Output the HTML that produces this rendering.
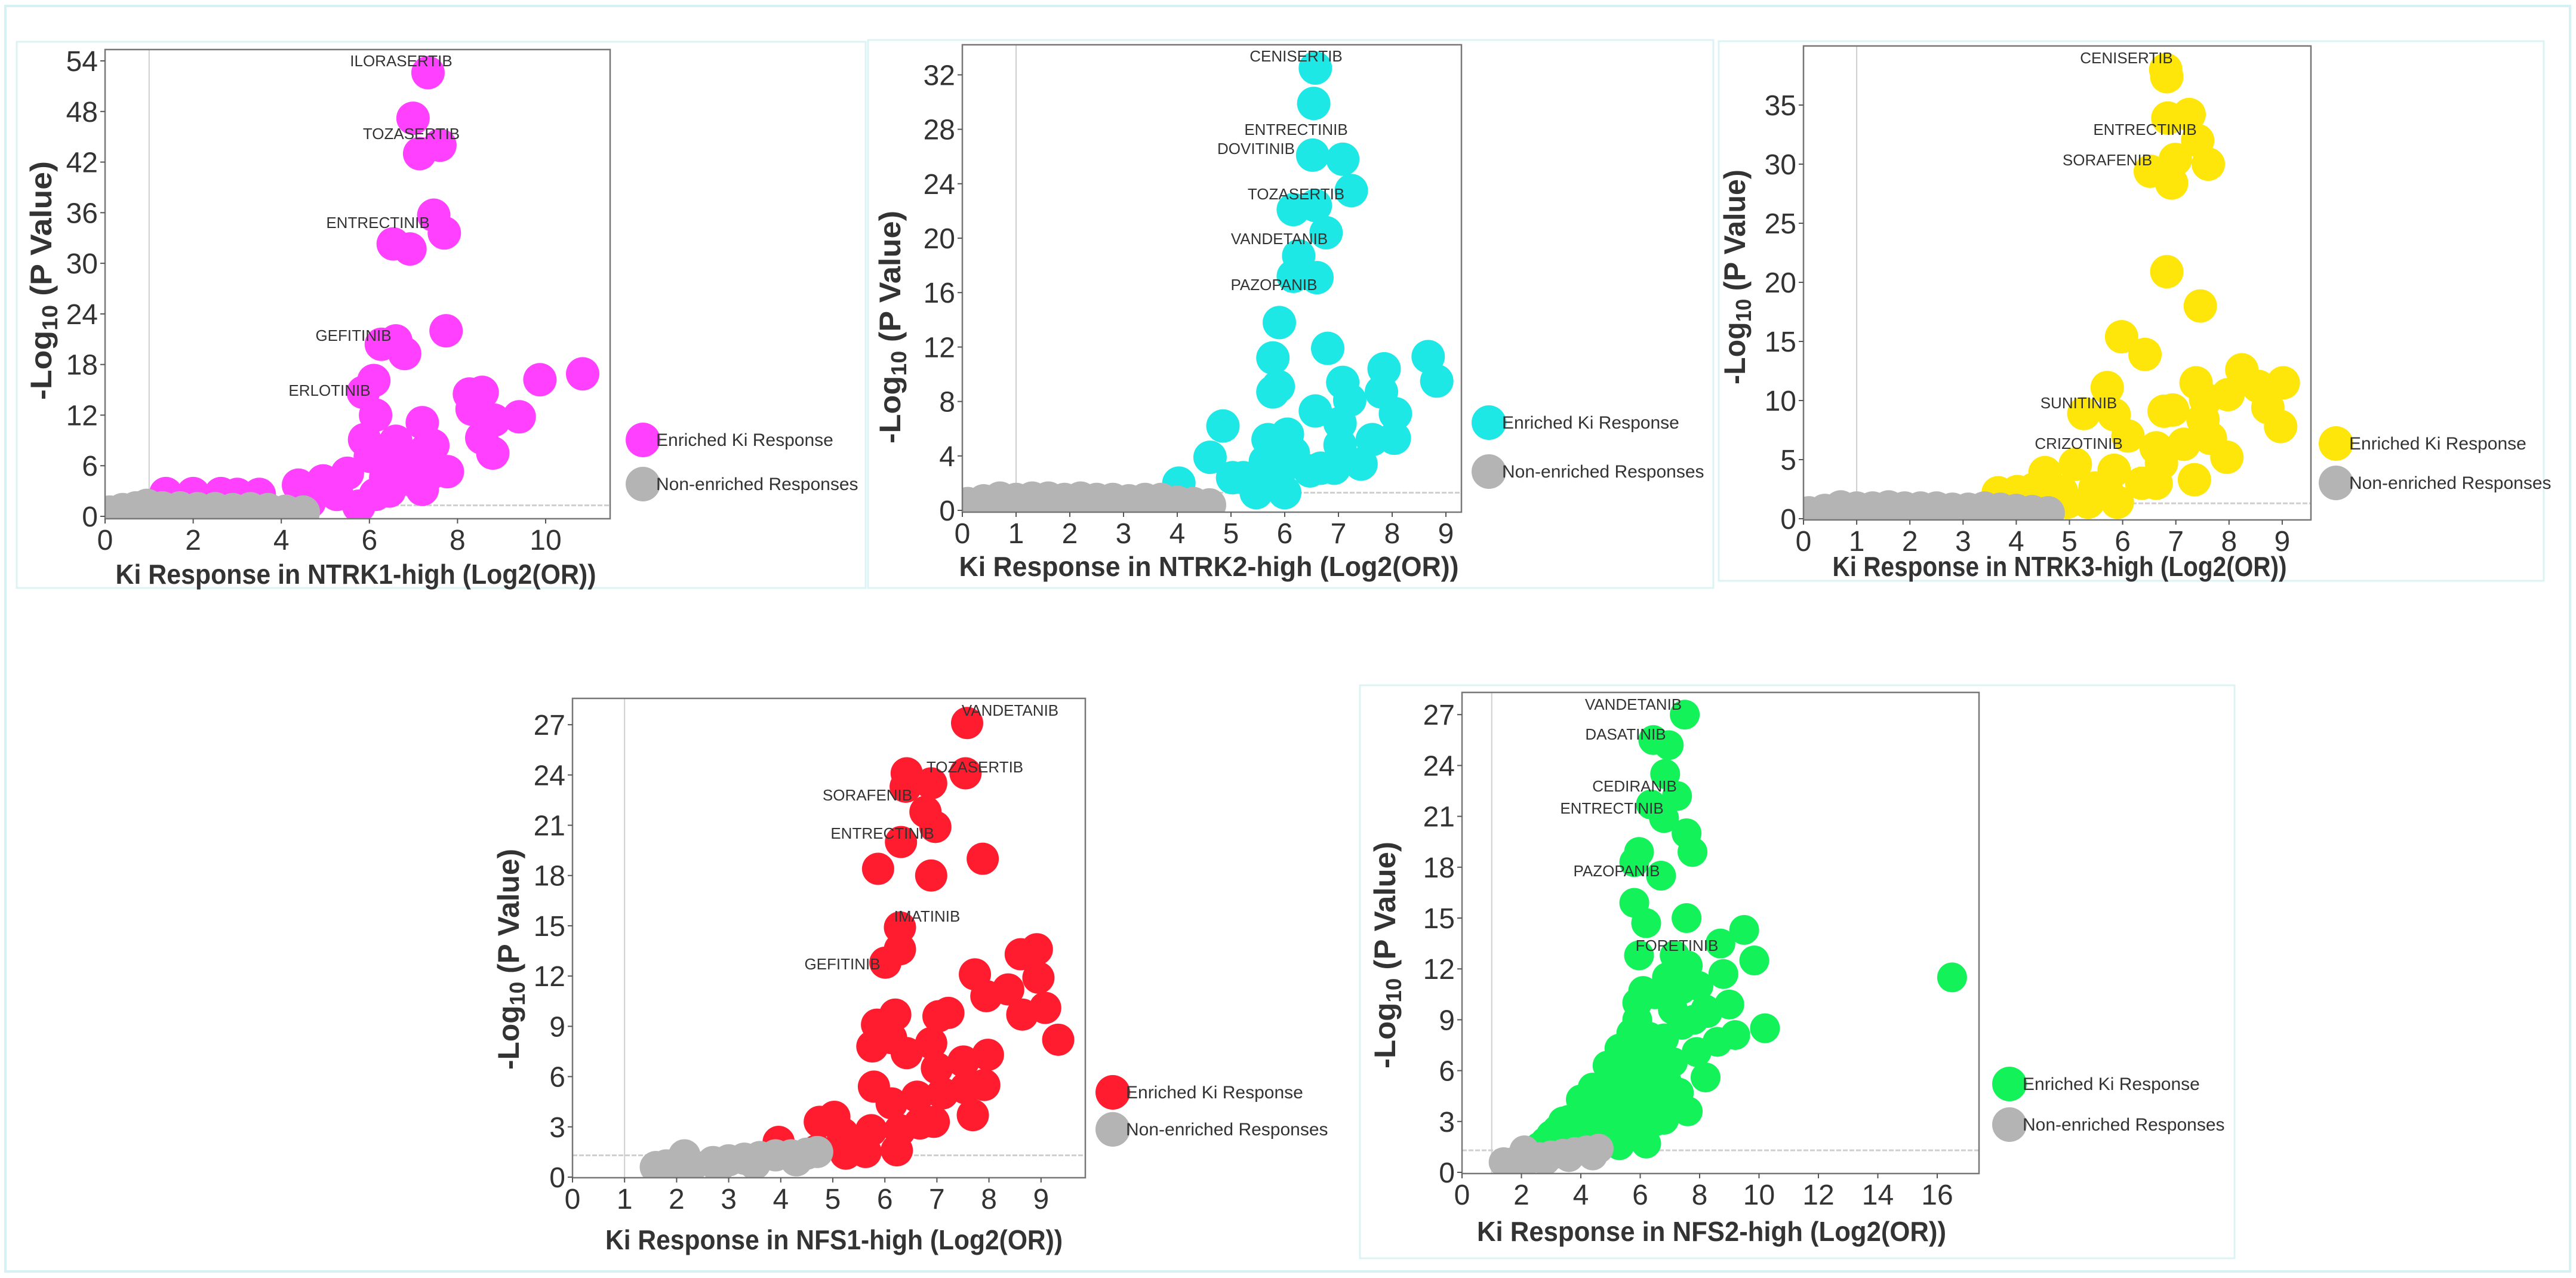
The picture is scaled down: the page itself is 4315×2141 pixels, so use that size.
<!DOCTYPE html>
<html><head><meta charset="utf-8"><style>
html,body{margin:0;padding:0;background:#fff}
svg{display:block;font-family:"Liberation Sans",Arial,sans-serif}
</style></head><body>
<svg id="fig" width="4315" height="2141" viewBox="0 0 4315 2141" xmlns="http://www.w3.org/2000/svg">
<rect x="9" y="10" width="4296" height="2120" fill="#fff" stroke="#d6f1f4" stroke-width="4"/>
<rect x="28" y="70" width="1422" height="915" fill="none" stroke="#dcf3f6" stroke-width="3"/>
<rect x="1454" y="67" width="1416" height="918" fill="none" stroke="#dcf3f6" stroke-width="3"/>
<rect x="2879" y="69" width="1382" height="904" fill="none" stroke="#dcf3f6" stroke-width="3"/>
<rect x="2278" y="1148" width="1465" height="960" fill="none" stroke="#dcf3f6" stroke-width="3"/>
</svg>
<script>
// ---------- DATA ----------
const p1EnrX=[7.33,6.99,7.6,7.14,7.46,7.7,6.54,6.92,7.74,6.27,6.6,6.8,6.1,5.86,10.84,9.87,8.27,8.56,8.33,8.83,9.4,6.14,7.2,5.89,6.6,7.44,7.27,8.55,8.8,6.39,6.99,7.77,7.39,6.37,5.5,4.95,4.39,7.2,6.45,5.76,5.26,6.14,4.64,6.89,6.02,1.38,2.0,2.63,3.0,3.5];
const p1EnrY=[52.6,47.2,44,43,35.7,33.6,32.3,31.7,22,20.4,20.8,19.3,16.1,14.7,16.9,16.2,14.5,14.7,12.7,11.4,11.8,12,11.1,9.1,8.9,8.4,7.8,9.3,7.5,6.4,6.2,5.3,5.1,4.6,5.1,4.2,3.7,3.2,3,1.2,2.6,2.6,1.7,4.4,7.1,2.7,2.7,2.7,2.6,2.6];
const p1GrayX=[0.1,0.4,0.7,0.95,1.3,1.7,2.1,2.5,2.9,3.3,3.7,4.1,4.5,0.3,1.0,1.8,2.6,3.4,4.2];
const p1GrayY=[0.5,0.8,1.0,1.3,1.0,1.0,0.9,0.9,0.8,0.9,0.8,0.6,0.5,0.2,0.3,0.3,0.3,0.3,0.2];
const p1Labels=["ILORASERTIB","TOZASERTIB","ENTRECTINIB","GEFITINIB","ERLOTINIB"];
const p1XTicks=[0,2,4,6,8,10];
const p1YTicks=[0,6,12,18,24,30,36,42,48,54];

const p2EnrX=[6.57,6.54,6.52,7.08,7.24,6.16,6.57,6.77,6.26,6.16,6.6,5.9,6.8,5.78,8.67,7.85,8.83,7.08,5.88,5.78,7.8,7.21,6.57,8.06,7.03,4.85,6.05,5.69,7.63,8.04,7.03,6.16,4.61,5.64,7.42,5.03,5.23,6.47,6.67,6.92,5.9,5.47,6.0,4.03,5.49];
const p2EnrY=[32.5,29.9,26.1,25.8,23.5,22.1,22.4,20.4,18.7,17.2,17.1,13.8,11.9,11.2,11.3,10.4,9.5,9.4,9.1,8.7,8.7,8.1,7.3,7.1,6.4,6.2,5.6,5.2,5.2,5.3,4.8,4.2,3.9,3.6,3.4,2.4,2.4,2.9,3.1,3.1,2.8,1.3,1.3,2.0,2.5];
const p2GrayX=[0.1,0.4,0.7,1.0,1.3,1.6,1.9,2.2,2.5,2.8,3.1,3.4,3.7,4.0,4.3,4.6,0.5,1.5,2.5,3.5,4.4];
const p2GrayY=[0.5,0.7,0.9,0.8,0.9,0.9,0.8,0.9,0.8,0.8,0.7,0.8,0.8,0.6,0.5,0.4,0.2,0.2,0.2,0.2,0.2];
const p2Labels=["CENISERTIB","ENTRECTINIB","DOVITINIB","TOZASERTIB","VANDETANIB","PAZOPANIB"];
const p2XTicks=[0,1,2,3,4,5,6,7,8,9];
const p2YTicks=[0,4,8,12,16,20,24,28,32];

const p3EnrX=[6.83,6.81,6.85,7.25,7.41,6.99,6.52,7.61,6.92,6.83,7.46,5.98,6.42,8.24,9.02,7.38,8.55,5.71,7.98,7.56,8.73,6.78,6.94,5.27,5.84,7.51,8.97,6.1,7.65,7.15,6.63,7.96,5.11,4.54,5.84,6.73,7.35,6.36,6.63,5.48,4.96,5.35,5.9,5.69,4.85,4.02,3.66,4.33];
const p3EnrY=[37.4,38,33.9,34.2,32,30.4,29.4,30,28.4,20.9,18,15.4,13.9,12.6,11.5,11.5,11.2,11.1,10.5,10.1,9.4,9.1,9.2,8.9,8.8,8.4,7.8,7,6.8,6.3,6,5.2,4.6,3.9,4.1,4.7,3.3,3,3,2.6,1.4,1.4,1.4,2.5,2.3,2.3,2.2,2.5];
const p3GrayX=[0.1,0.4,0.7,1.0,1.3,1.6,1.9,2.2,2.5,2.8,3.1,3.4,3.7,4.0,4.3,4.6,0.5,1.5,2.5,3.5,4.4];
const p3GrayY=[0.5,0.7,1.0,0.9,0.9,1.0,0.9,0.9,0.9,0.8,0.8,0.9,0.8,0.7,0.6,0.5,0.2,0.2,0.2,0.2,0.2];
const p3Labels=["CENISERTIB","ENTRECTINIB","SORAFENIB","SUNITINIB","CRIZOTINIB"];
const p3XTicks=[0,1,2,3,4,5,6,7,8,9];
const p3YTicks=[0,5,10,15,20,25,30,35];

const p4EnrX=[7.58,7.55,6.42,6.89,6.4,6.78,6.97,6.31,7.88,5.87,6.89,6.29,6.29,6.01,8.92,8.61,7.73,8.95,8.37,7.95,8.64,9.08,7.22,7.03,6.2,5.85,9.33,6.89,6.12,5.76,7.98,6.42,7.51,7.0,5.79,7.91,7.55,7.11,6.62,6.13,7.69,4.75,5.03,6.94,6.67,5.74,5.19,6.29,6.23,5.63,5.25,3.96,4.7];
const p4EnrY=[27.1,24.1,24.1,23.5,23.3,21.8,20.9,20,19,18.4,18,14.9,13.6,12.8,13.6,13.3,12.1,11.9,11.2,10.8,9.7,10.1,9.8,9.6,9.7,9.1,8.2,8,8.3,7.8,7.3,7.4,6.9,6.5,5.4,5.5,5.3,5,4.8,4.4,3.7,3.3,3.6,3.3,3.2,2.8,2.6,2.8,1.6,1.5,1.4,2.1,1.6];
const p4GrayX=[1.6,1.8,2.0,2.15,2.3,2.7,3.0,3.3,3.6,3.9,4.2,4.5,4.7,2.0,2.8,3.5,4.3];
const p4GrayY=[0.6,0.7,0.8,1.3,0.7,0.9,1.0,1.1,1.2,1.3,1.3,1.4,1.5,0.4,0.6,0.8,1.0];
const p4Labels=["VANDETANIB","TOZASERTIB","SORAFENIB","ENTRECTINIB","IMATINIB","GEFITINIB"];
const p4XTicks=[0,1,2,3,4,5,6,7,8,9];
const p4YTicks=[0,3,6,9,12,15,18,21,24,27];

const p5EnrX=[7.5,6.44,6.96,6.84,7.24,6.36,6.8,7.56,7.76,5.96,5.8,6.7,5.8,7.56,6.2,9.5,8.7,5.96,7.16,9.84,16.5,7.6,8.8,7.96,6.1,6.7,9.0,8.26,7.1,5.9,10.2,9.2,8.6,6.8,5.4,7.9,6.1,8.2,5.0,6.8,5.8,7.3,4.0,7.6,6.4,4.8,3.6,5.4,6.8,3.2,4.2,6.2,5.3,2.8,4.6,5.6,5.0,6.6,7.4,5.6,
 3.0,3.4,3.8,4.2,4.5,4.8,5.0,5.2,5.4,5.6,5.8,6.0,6.2,6.4,6.6,5.5,5.7,6.0,6.3,6.9,7.1,4.6,5.0,5.5,3.8,2.6,5.9,6.5,6.9,7.4,7.8,8.2,6.5,7.0,4.4,3.6,4.9,5.3];
const p5EnrY=[27,25.5,25.2,23.5,22.2,21.7,20.9,20,18.9,18.9,18.3,17.5,15.9,15,14.7,14.3,13.5,12.8,12.8,12.5,11.5,12.2,11.7,11,10.7,10.6,9.9,9.4,9.6,9,8.5,8.1,7.7,7.9,7.1,7.1,6.6,5.6,5.4,6.1,4.9,4.7,4.3,3.6,3.9,3.5,3.1,3.0,3.1,2.5,2.7,1.7,1.6,1.8,2.0,2.6,4.2,7.3,8.7,6.1,
 2.2,3.0,2.0,3.5,2.5,4.5,3.2,5.0,4.0,5.5,3.5,6.0,5.2,4.3,5.8,6.8,8.2,7.5,8.0,5.3,6.5,1.5,2.0,2.2,1.4,1.5,10.0,10.5,11.5,10.8,9.0,9.6,3.0,3.6,5.0,2.4,6.3,7.3];
const p5GrayX=[1.4,1.7,2.1,2.3,2.6,3.0,3.4,3.8,4.2,4.6,2.0,2.8,3.6,4.4];
const p5GrayY=[0.6,0.6,1.3,0.8,0.9,1.0,1.1,1.2,1.3,1.4,0.4,0.7,0.9,1.0];
const p5Labels=["VANDETANIB","DASATINIB","CEDIRANIB","ENTRECTINIB","PAZOPANIB","FORETINIB"];
const p5XTicks=[0,2,4,6,8,10,12,14,16];
const p5YTicks=[0,3,6,9,12,15,18,21,24,27];

// ---------- LAYOUT (geometry, not data) ----------
const panels=[
 {id:"ntrk1",gene:"NTRK1",color:"#ff40ff",ex:p1EnrX,ey:p1EnrY,gx:p1GrayX,gy:p1GrayY,xt:p1XTicks,yt:p1YTicks,labels:p1Labels,
  labelPos:[[672,102],[689,224],[633,373],[592,562],[552,654]],
  box:[176,83,1022,869],x0:176,xu:73.8,y0:865,yu:14.13,r:28,
  leg:[1077,737,811],yTitle:[69,470,400],xTitle:[596,978,805]},
 {id:"ntrk2",gene:"NTRK2",color:"#1ee8e6",ex:p2EnrX,ey:p2EnrY,gx:p2GrayX,gy:p2GrayY,xt:p2XTicks,yt:p2YTicks,labels:p2Labels,
  labelPos:[[2171,94],[2171,217],[2104,249],[2171,325],[2143,400],[2134,477]],
  box:[1612,75,2448,858],x0:1612,xu:90,y0:855,yu:22.8,r:28,
  leg:[2494,708,790],yTitle:[1491,548,390],xTitle:[2025,965,837]},
 {id:"ntrk3",gene:"NTRK3",color:"#ffe60a",ex:p3EnrX,ey:p3EnrY,gx:p3GrayX,gy:p3GrayY,xt:p3XTicks,yt:p3YTicks,labels:p3Labels,
  labelPos:[[3562,97],[3593,217],[3530,268],[3482,675],[3482,743]],
  box:[3021,77,3871,871],x0:3021,xu:89.1,y0:869,yu:19.8,r:28,
  leg:[3913,743,809],yTitle:[2906,464,360],xTitle:[3450,965,761]},
 {id:"nfs1",gene:"NFS1",color:"#ff1c2e",ex:p4EnrX,ey:p4EnrY,gx:p4GrayX,gy:p4GrayY,xt:p4XTicks,yt:p4YTicks,labels:p4Labels,
  labelPos:[[1692,1190],[1633,1285],[1453,1332],[1478,1396],[1553,1535],[1411,1615]],
  box:[959,1170,1818,1973],x0:959,xu:87.2,y0:1972,yu:28.07,r:27,
  leg:[1864,1830,1892],yTitle:[852,1607,370],xTitle:[1397,2093,766]},
 {id:"nfs2",gene:"NFS2",color:"#14f25a",ex:p5EnrX,ey:p5EnrY,gx:p5GrayX,gy:p5GrayY,xt:p5XTicks,yt:p5YTicks,labels:p5Labels,
  labelPos:[[2736,1180],[2723,1230],[2738,1317],[2700,1354],[2708,1459],[2809,1584]],
  box:[2449,1160,3315,1966],x0:2449,xu:49.75,y0:1964,yu:28.4,r:25,
  leg:[3366,1816,1884],yTitle:[2320,1600,380],xTitle:[2867,2079,786]}
];

const NS="http://www.w3.org/2000/svg";
const svg=document.getElementById("fig");
function mk(tag,attrs,parent){const e=document.createElementNS(NS,tag);for(const k in attrs)e.setAttribute(k,attrs[k]);(parent||svg).appendChild(e);return e;}

panels.forEach(p=>{
  const g=mk("g",{});
  
  
  const sx=v=>p.x0+v*p.xu, sy=v=>p.y0-v*p.yu;
  const [bx0,by0,bx1,by1]=p.box;
  const clip=mk("clipPath",{id:"clip-"+p.id},g);
  mk("rect",{x:bx0,y:by0,width:bx1-bx0,height:by1-by0},clip);
  const vl=mk("line",{x1:sx(1),x2:sx(1),y1:by0,y2:by1,stroke:"#cfcfcf","stroke-width":2},g);
  
  
  const hl=mk("line",{x1:bx0,x2:bx1,y1:sy(1.3),y2:sy(1.3),stroke:"#cfcfcf","stroke-width":3,"stroke-dasharray":"8 3"},g);
  
  
  const pts=mk("g",{"clip-path":"url(#clip-"+p.id+")"},g);
  
  
  p.ex.forEach((x,i)=>{
    const c=mk("circle",{cx:sx(x),cy:sy(p.ey[i]),r:p.r,fill:p.color},pts);
    
    
  });
  p.gx.forEach((x,i)=>{
    const c=mk("circle",{cx:sx(x),cy:sy(p.gy[i]),r:p.r,fill:"#b4b4b4"},pts);
    
    
  });
  const b=mk("rect",{x:bx0,y:by0,width:bx1-bx0,height:by1-by0,fill:"none",stroke:"#777","stroke-width":2.5},g);
  
  
  p.xt.forEach(v=>{
    mk("line",{x1:sx(v),x2:sx(v),y1:by1,y2:by1+8,stroke:"#555","stroke-width":2},g);
    const t=mk("text",{x:sx(v),y:by1+52,"font-size":48,"text-anchor":"middle",fill:"#333"},g);
    t.textContent=v;
    
    
  });
  p.yt.forEach(v=>{
    mk("line",{x1:bx0-8,x2:bx0,y1:sy(v),y2:sy(v),stroke:"#555","stroke-width":2},g);
    const t=mk("text",{x:bx0-12,y:sy(v)+17,"font-size":48,"text-anchor":"end",fill:"#333"},g);
    t.textContent=v;
    
    
  });
  p.labels.forEach((s,i)=>{
    const t=mk("text",{x:p.labelPos[i][0],y:p.labelPos[i][1]+9,"font-size":26,"text-anchor":"middle",fill:"#333"},g);
    t.textContent=s;
    
    
  });
  const [yx,yy,yl]=p.yTitle;
  const yt=mk("text",{x:0,y:0,"font-size":50,"font-weight":"bold","text-anchor":"middle",fill:"#333",textLength:yl,lengthAdjust:"spacingAndGlyphs",
    transform:`translate(${yx+17},${yy}) rotate(-90)`},g);
  
  
  yt.innerHTML='-Log<tspan font-size="36" dy="10">10</tspan><tspan dy="-10"> (P Value)</tspan>';
  const [xx,xy,xl]=p.xTitle;
  const xtt=mk("text",{x:xx,y:xy,"font-size":46,"font-weight":"bold","text-anchor":"middle",fill:"#333",textLength:xl,lengthAdjust:"spacingAndGlyphs"},g);
  xtt.textContent="Ki Response in "+p.gene+"-high (Log2(OR))";
  
  
  const [lx,ly1,ly2]=p.leg;
  const lg=mk("g",{},g);
  
  
  const c1=mk("circle",{cx:lx,cy:ly1,r:29,fill:p.color},lg);
  
  
  const t1=mk("text",{x:lx+22,y:ly1+10,"font-size":30,fill:"#333"},lg);
  t1.textContent="Enriched Ki Response";
  
  
  const c2=mk("circle",{cx:lx,cy:ly2,r:29,fill:"#b4b4b4"},lg);
  
  
  const t2=mk("text",{x:lx+22,y:ly2+10,"font-size":30,fill:"#333"},lg);
  t2.textContent="Non-enriched Responses";
  
  
});
</script>
</body></html>
